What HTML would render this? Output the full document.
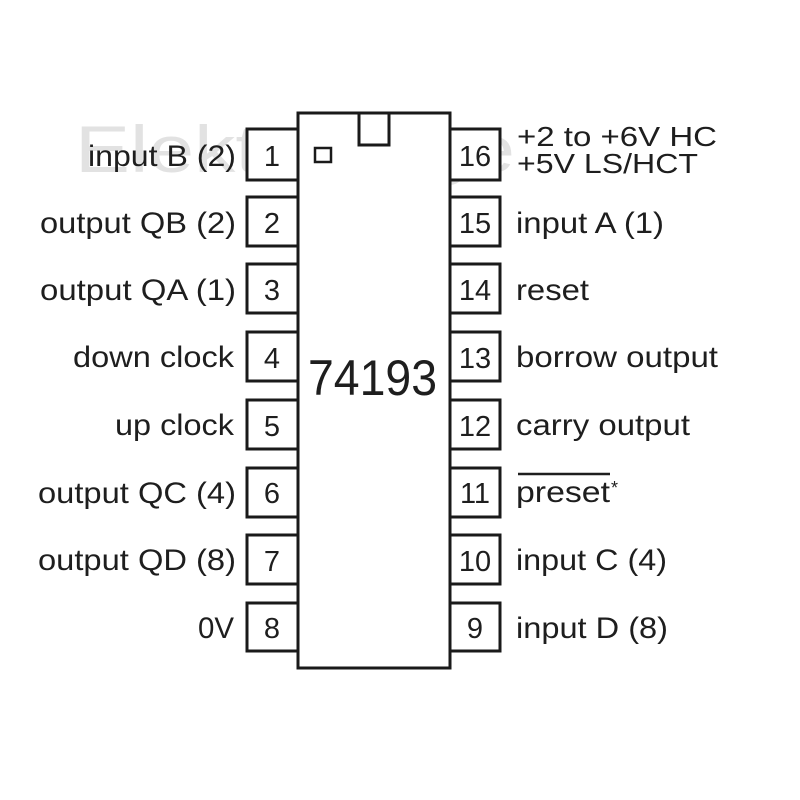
<!DOCTYPE html>
<html><head><meta charset="utf-8"><style>
html,body{margin:0;padding:0;background:#fff;width:800px;height:800px;overflow:hidden}
text{font-family:"Liberation Sans",sans-serif;fill:#1e1e1e}
</style></head><body>
<svg width="800" height="800" viewBox="0 0 800 800" xmlns="http://www.w3.org/2000/svg">
<rect width="800" height="800" fill="#fff"/>
<text x="75" y="172" font-size="66" style="fill:#e2e2e2" textLength="440" lengthAdjust="spacingAndGlyphs">Elektropage</text>
<g fill="#fff" stroke="#1a1a1a" stroke-width="3">
<rect x="298" y="113" width="152" height="555"/>
<rect x="359" y="113" width="30" height="32"/>
<rect x="315" y="148" width="16" height="14" stroke-width="2.5"/>
<rect x="247" y="129" width="51" height="51"/>
<rect x="247" y="197" width="51" height="49"/>
<rect x="247" y="264" width="51" height="49"/>
<rect x="247" y="332" width="51" height="49"/>
<rect x="247" y="400" width="51" height="49"/>
<rect x="247" y="468" width="51" height="49"/>
<rect x="247" y="535" width="51" height="49"/>
<rect x="247" y="603" width="51" height="48"/>
<rect x="450" y="129" width="50" height="51"/>
<rect x="450" y="197" width="50" height="49"/>
<rect x="450" y="264" width="50" height="49"/>
<rect x="450" y="332" width="50" height="49"/>
<rect x="450" y="400" width="50" height="49"/>
<rect x="450" y="468" width="50" height="49"/>
<rect x="450" y="535" width="50" height="49"/>
<rect x="450" y="603" width="50" height="48"/>
</g>
<g font-size="29" text-anchor="middle">
<text x="272" y="166">1</text><text x="272" y="233">2</text><text x="272" y="300">3</text><text x="272" y="368">4</text>
<text x="272" y="436">5</text><text x="272" y="503">6</text><text x="272" y="571">7</text><text x="272" y="638">8</text>
<text x="475" y="166">16</text><text x="475" y="233">15</text><text x="475" y="300">14</text><text x="475" y="368">13</text>
<text x="475" y="436">12</text><text x="475" y="503">11</text><text x="475" y="571">10</text><text x="475" y="638">9</text>
</g>
<g font-size="30" text-anchor="end">
<text x="236" y="166" textLength="148" lengthAdjust="spacingAndGlyphs">input B (2)</text>
<text x="236" y="233" textLength="196" lengthAdjust="spacingAndGlyphs">output QB (2)</text>
<text x="236" y="300" textLength="196" lengthAdjust="spacingAndGlyphs">output QA (1)</text>
<text x="234" y="367" textLength="161" lengthAdjust="spacingAndGlyphs">down clock</text>
<text x="234" y="435" textLength="119" lengthAdjust="spacingAndGlyphs">up clock</text>
<text x="236" y="503" textLength="198" lengthAdjust="spacingAndGlyphs">output QC (4)</text>
<text x="236" y="570" textLength="198" lengthAdjust="spacingAndGlyphs">output QD (8)</text>
<text x="234" y="638" textLength="36" lengthAdjust="spacingAndGlyphs">0V</text>
</g>
<g font-size="30">
<text x="517" y="146" font-size="28" textLength="200" lengthAdjust="spacingAndGlyphs">+2 to +6V HC</text>
<text x="517" y="173" font-size="28" textLength="181" lengthAdjust="spacingAndGlyphs">+5V LS/HCT</text>
<text x="516" y="233" textLength="148" lengthAdjust="spacingAndGlyphs">input A (1)</text>
<text x="516" y="300" textLength="73" lengthAdjust="spacingAndGlyphs">reset</text>
<text x="516" y="367" textLength="202" lengthAdjust="spacingAndGlyphs">borrow output</text>
<text x="516" y="435" textLength="174" lengthAdjust="spacingAndGlyphs">carry output</text>
<text x="516" y="502" textLength="94" lengthAdjust="spacingAndGlyphs">preset</text>
<text x="611" y="494" font-size="18">*</text>
<text x="516" y="570" textLength="151" lengthAdjust="spacingAndGlyphs">input C (4)</text>
<text x="516" y="638" textLength="152" lengthAdjust="spacingAndGlyphs">input D (8)</text>
</g>
<line x1="518" y1="474" x2="610" y2="474" stroke="#1e1e1e" stroke-width="2.5"/>
<text x="308" y="395" font-size="50" textLength="129" lengthAdjust="spacingAndGlyphs">74193</text>
</svg>
</body></html>
